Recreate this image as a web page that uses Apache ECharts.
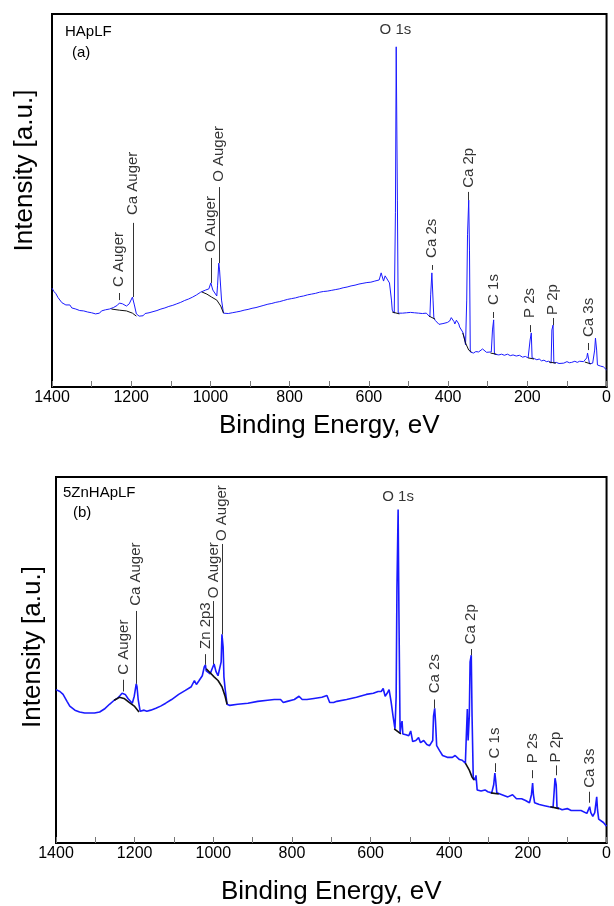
<!DOCTYPE html>
<html><head><meta charset="utf-8">
<script src="https://cdn.jsdelivr.net/npm/echarts@6/dist/echarts.min.js"></script>
<style>html,body{margin:0;padding:0;background:#fff}#c{width:614px;height:906px}</style>
</head><body><div id="c"></div>
<script>
// ---- Panel (a): HApLF ----
const energyA = [
1400,1395,1390,1385,1380,1375,1370,1365,1360,1355,
1350,1345,1340,1335,1330,1325,1320,1315,1310,1305,
1300,1295,1290,1285,1280,1275,1270,1265,1260,1255,
1250,1245,1240,1235,1230,1222,1212,1205,1197,1192,
1187,1180,1175,1170,1165,1160,1155,1150,1145,1140,
1135,1130,1125,1120,1115,1110,1105,1100,1095,1090,
1085,1080,1075,1070,1065,1060,1055,1050,1045,1040,
1035,1030,1025,1022,1012,1004,999,994,989,984,
982,979,977,972,967,962,955,950,945,940,
935,930,925,920,915,910,905,900,895,890,
885,880,875,870,865,860,855,850,845,840,
835,830,825,820,815,810,805,800,795,790,
785,780,775,770,765,760,755,750,745,740,
735,730,725,720,715,710,705,700,695,690,
685,680,675,670,665,660,655,650,645,640,
635,630,625,620,615,610,605,600,595,590,
585,581,574,569,563,559,554,548,543,541,
536,533,531,528,526,521,515,510,505,500,
495,490,485,480,475,470,465,460,455,450,
446,444,441,438,436,432,428,423,418,413,
408,402,396,392,388,385,383,379,376,373,
371,367,363,360,358,356,353,351,348,346,
344,340,336,330,323,318,313,308,303,298,
291,288,285,283,278,272,265,258,250,243,
236,228,220,212,205,198,195,193,190,188,
182,176,170,164,158,152,146,140,138,135,
133,127,120,115,108,100,94,88,80,74,
68,63,58,55,50,48,43,38,35,30,
28,25,23,18,15,10,8,4,0];
const intensityA = [
26.5,25.6,25.0,24.0,23.6,22.6,22.9,22.0,21.6,22.0,
21.2,21.5,20.9,21.2,20.5,20.9,20.4,20.7,20.1,20.5,
19.9,20.2,19.6,20.0,19.8,20.4,20.1,20.7,20.4,20.9,
20.6,21.3,21.0,21.9,22.5,22.3,21.7,22.3,24.1,22.0,
19.6,19.0,19.4,19.1,19.7,19.4,19.9,19.6,20.2,19.9,
20.5,20.3,20.9,20.6,21.2,21.0,21.6,21.3,21.9,21.7,
22.3,22.1,22.7,22.6,23.2,23.0,23.6,23.5,24.1,24.0,
24.7,24.8,25.4,25.5,26.0,26.3,27.9,26.0,25.2,24.4,
27.3,33.2,31.4,23.3,19.8,19.3,19.7,19.4,19.9,19.7,
20.1,19.8,20.3,20.1,20.6,20.3,20.8,20.6,21.1,20.9,
21.3,21.1,21.6,21.3,21.9,21.6,22.2,21.9,22.4,22.2,
22.7,22.4,22.9,22.7,23.2,22.9,23.5,23.2,23.7,23.4,
23.9,23.7,24.2,23.9,24.4,24.2,24.7,24.4,24.9,24.6,
25.1,24.8,25.4,25.0,25.6,25.3,25.7,25.4,25.9,25.6,
26.1,25.8,26.3,26.0,26.6,26.3,26.8,26.5,27.1,26.8,
27.3,27.0,27.6,27.3,27.8,27.5,28.0,27.7,28.1,28.0,
28.4,28.3,28.7,30.6,28.4,29.8,29.8,27.9,23.3,20.6,
19.8,46.7,91.2,50.1,19.8,19.3,19.8,19.4,19.9,19.5,
20.0,19.6,19.9,19.4,19.8,19.3,19.7,19.4,19.8,19.3,
18.8,24.7,30.6,23.3,18.5,17.8,17.4,16.8,16.6,17.0,
16.9,17.3,17.7,18.6,18.2,17.5,16.9,17.9,17.7,16.9,
16.1,15.6,14.7,13.6,12.6,11.3,23.3,40.8,50.1,36.7,
9.4,9.2,9.1,9.5,9.4,9.8,10.2,9.9,9.3,9.1,
9.4,15.3,18.0,8.8,8.9,8.6,8.8,8.5,8.8,8.4,
8.6,8.3,8.5,8.0,8.2,7.8,7.9,12.6,14.5,7.8,
7.6,7.3,7.5,7.0,7.2,6.8,6.9,6.4,15.3,16.6,
6.4,6.6,6.3,6.5,6.4,6.8,6.5,6.6,6.9,6.6,
6.9,7.3,6.8,6.4,7.8,9.1,6.2,6.6,6.4,9.9,
13.1,9.9,5.9,5.8,5.6,5.9,5.4,5.2,4.6];
const bgEnergyA = [1250,1230,1212,1197,1187,null,1022,1009,997,984,974,967,null,541,523,null,448,433,null,363,356,348,341,null,293,278,null,198,183,null,145,128,null,55,40];
const bgA = [20.9,20.6,20.4,19.8,19.0,null,25.5,24.9,24.1,23.3,21.7,19.8,null,20.1,19.6,null,19.0,18.2,null,14.5,11.8,9.9,9.4,null,9.1,8.8,null,7.8,7.5,null,6.7,6.4,null,6.7,6.2];
const peakNamesA = ['C Auger','Ca Auger','O Auger','O Auger','Ca 2s','Ca 2p','C 1s','P 2s','P 2p','Ca 3s'];
const peakEnergyA = [1230,1196,998,979,441,348,285,193,135,45];
const leaderLowA = [23.3,24.1,27.9,33.2,31.4,50.1,18.5,14.7,16.6,9.9];
const leaderHighA = [25.2,44.0,34.6,53.6,32.7,52.3,20.1,16.6,18.5,11.8];
const textBaseA = [26.8,46.1,36.2,55.0,34.6,53.4,22.0,18.5,19.3,13.4];
const topNameA = ['O 1s'], topEnergyA = [533], topValueA = [95.7];

// ---- Panel (b): 5ZnHApLF ----
const energyB = [1400,1397,1390,1382,1372,1365,1352,1340,1327,1315,1302,1289,1277,1264,1252,1244,1237,1232,1224,1217,1206,1201,1196,1194,1191,1186,1184,1176,1169,1159,1146,1134,1121,1106,1088,1071,1056,1048,1046,1043,1036,1028,1023,1020,1018,1013,1008,1003,998,993,988,983,980,978,975,973,970,965,958,938,912,887,862,845,829,822,812,794,782,774,762,744,724,711,704,694,686,661,636,611,593,581,573,568,563,558,553,548,543,538,535,533,530,528,525,523,520,518,510,503,498,493,485,478,473,465,457,450,442,440,437,435,432,425,417,405,392,385,380,374,367,359,357,354,352,349,347,344,342,339,334,332,329,319,309,302,292,287,284,282,279,266,251,239,229,216,206,196,191,188,186,183,171,158,146,136,133,131,128,126,113,100,90,78,65,61,50,45,43,40,35,30,25,23,20,15,8,0];
const intensityB = [41.9,41.9,41.4,40.6,38.7,37.4,36.3,35.8,35.5,35.5,35.5,35.8,36.6,37.9,39.0,39.5,40.3,40.9,40.6,39.5,38.2,40.1,43.5,42.7,39.2,36.0,35.5,36.3,36.0,36.3,36.8,37.4,38.2,39.2,40.6,41.7,42.7,44.4,44.9,43.3,44.4,45.7,48.1,48.7,47.0,47.0,46.2,47.6,48.9,46.8,45.7,45.4,49.5,57.0,53.5,45.4,42.2,37.9,37.6,37.9,38.2,38.7,39.0,39.2,39.2,38.4,38.7,39.2,40.1,39.2,39.2,39.5,39.8,40.3,38.4,38.4,38.7,39.2,39.8,40.6,40.9,41.4,41.4,42.2,40.1,40.9,41.9,38.7,34.7,31.2,40.1,69.6,91.1,63.4,30.1,31.9,33.3,29.8,29.6,29.3,30.6,27.7,28.0,28.8,27.4,28.0,26.9,26.6,28.0,34.7,36.8,33.3,26.6,25.3,23.9,23.4,23.4,23.9,24.2,22.8,22.6,21.8,28.0,36.6,28.0,34.7,49.5,51.3,34.7,18.0,17.2,18.5,14.5,14.2,14.5,14.0,13.7,15.9,19.1,17.2,13.7,13.2,12.6,13.2,12.1,12.1,11.6,11.0,13.2,16.4,13.2,11.0,10.5,10.2,9.9,9.7,14.5,17.7,15.9,9.7,9.1,9.4,8.9,8.9,8.9,9.4,8.1,7.8,9.9,8.3,7.3,8.3,12.6,9.1,6.5,6.2,5.6,4.6];
const bgEnergyB = [1252,1239,1227,1214,1201,1189,null,1018,1008,998,988,978,970,965,null,540,523,null,359,349,342,337,null,294,274,null,143,121];
const bgB = [39.0,39.8,39.5,38.4,37.4,35.8,null,47.6,46.5,45.4,44.4,42.7,40.1,37.9,null,31.2,29.8,null,21.8,19.9,18.0,17.2,null,13.7,13.4,null,9.9,9.4];
const peakNamesB = ['C Auger','Ca Auger','Zn 2p3','O Auger','O Auger','Ca 2s','Ca 2p','C 1s','P 2s','P 2p','Ca 3s'];
const peakEnergyB = [1228,1196,1020,999,977,437,345,284,188,129,43];
const leaderLowB = [41.4,43.5,48.7,48.9,57.0,36.8,51.3,19.4,17.7,18.5,11.0];
const leaderHighB = [44.6,63.4,51.6,66.1,81.7,39.2,53.0,21.8,19.9,21.2,14.0];
const textBaseB = [46.0,64.8,53.0,66.9,82.5,40.9,54.3,23.1,21.8,22.0,15.1];
const topNameB = ['O 1s'], topEnergyB = [530], topValueB = [94.6];

const xTickLabels = [0,200,400,600,800,1000,1200,1400];

const FONT = "'Liberation Sans', Arial, Helvetica, sans-serif";
function pairs(xs, ys){ return xs.map((x,i)=> x===null ? [xs[i-1], '-'] : [x, ys[i]]); }

function xAx(i, gap){ return {
  type:'value', gridIndex:i, inverse:true, min:0, max:1400, interval:100,
  axisLine:{show:true, onZero:false, lineStyle:{color:'#000', width:2}},
  axisTick:{show:true, inside:true, length:6, lineStyle:{color:'#777', width:1}},
  axisLabel:{formatter: v => xTickLabels.indexOf(v) >= 0 ? String(v) : '', fontSize:16, color:'#000', fontFamily:FONT, margin:3},
  splitLine:{show:false},
  name:'Binding Energy, eV', nameLocation:'middle', nameGap:gap,
  nameTextStyle:{fontSize:26, color:'#000', fontFamily:FONT}
};}
function yAx(i, gap, pad){ return {
  type:'value', gridIndex:i, min:0, max:100,
  axisLine:{show:true, onZero:false, lineStyle:{color:'#000', width:2}},
  axisTick:{show:false}, axisLabel:{show:false}, splitLine:{show:false},
  name:'Intensity [a.u.]', nameLocation:'middle', nameGap:gap,
  nameTextStyle:{fontSize:26, color:'#000', fontFamily:FONT, padding:[0,0,0,pad]}
};}
function spectrum(i, xs, ys, w){ return {type:'line', xAxisIndex:i, yAxisIndex:i, data:pairs(xs,ys), symbol:'none', showSymbol:false, lineStyle:{color:'#1a1aff', width:w}, z:3, animation:false}; }
function baseline(i, xs, ys, w){ return {type:'line', xAxisIndex:i, yAxisIndex:i, data:pairs(xs,ys), symbol:'none', showSymbol:false, connectNulls:false, lineStyle:{color:'#111', width:w}, z:4, animation:false}; }
function peakLabels(i, names, es, base, lo, hi){ return {
  type:'scatter', xAxisIndex:i, yAxisIndex:i, symbolSize:1, itemStyle:{color:'rgba(0,0,0,0)'}, silent:true, animation:false, z:5,
  data: es.map((e,k)=>({value:[e, base[k]], name:names[k]})),
  label:{show:true, formatter:'{b}', position:'inside', rotate:90, align:'left', verticalAlign:'middle', fontSize:15, color:'#000', fontFamily:FONT},
  markLine:{silent:true, symbol:['none','none'], animation:false, label:{show:false},
    lineStyle:{color:'#333', width:1, type:'solid'},
    data: es.map((e,k)=>[{coord:[e, lo[k]]},{coord:[e, hi[k]]}])}
};}
function horizLabel(i, names, es, vs){ return {
  type:'scatter', xAxisIndex:i, yAxisIndex:i, symbolSize:1, itemStyle:{color:'rgba(0,0,0,0)'}, silent:true, animation:false, z:5,
  data: es.map((e,k)=>({value:[e, vs[k]], name:names[k]})),
  label:{show:true, formatter:'{b}', position:'inside', align:'center', verticalAlign:'middle', fontSize:15, color:'#000', fontFamily:FONT}
};}
const ts = {fontSize:15, fontWeight:'normal', color:'#000', fontFamily:FONT};
const chart = echarts.init(document.getElementById('c'), null, {renderer:'canvas'});
chart.setOption({
  backgroundColor:'#fff',
  animation:false,
  title:[
    {text:'HApLF', left:65, top:24, padding:0, textStyle:ts},
    {text:'(a)', left:72, top:45, padding:0, textStyle:ts},
    {text:'5ZnHApLF', left:63, top:485, padding:0, textStyle:ts},
    {text:'(b)', left:73, top:505, padding:0, textStyle:ts}
  ],
  grid:[
    {left:52, top:14, width:559, height:373, show:true, borderColor:'#000', borderWidth:2, backgroundColor:'transparent'},
    {left:56, top:477, width:557, height:372, show:true, borderColor:'#000', borderWidth:2, backgroundColor:'transparent'}
  ],
  xAxis:[xAx(0,26), xAx(1,36)],
  yAxis:[yAx(0,14,60), yAx(1,10,26)],
  series:[
    spectrum(0, energyA, intensityA, 1),
    baseline(0, bgEnergyA, bgA, 1),
    peakLabels(0, peakNamesA, peakEnergyA, textBaseA, leaderLowA, leaderHighA),
    horizLabel(0, topNameA, topEnergyA, topValueA),
    spectrum(1, energyB, intensityB, 1.6),
    baseline(1, bgEnergyB, bgB, 1.6),
    peakLabels(1, peakNamesB, peakEnergyB, textBaseB, leaderLowB, leaderHighB),
    horizLabel(1, topNameB, topEnergyB, topValueB)
  ]
});
</script></body></html>
